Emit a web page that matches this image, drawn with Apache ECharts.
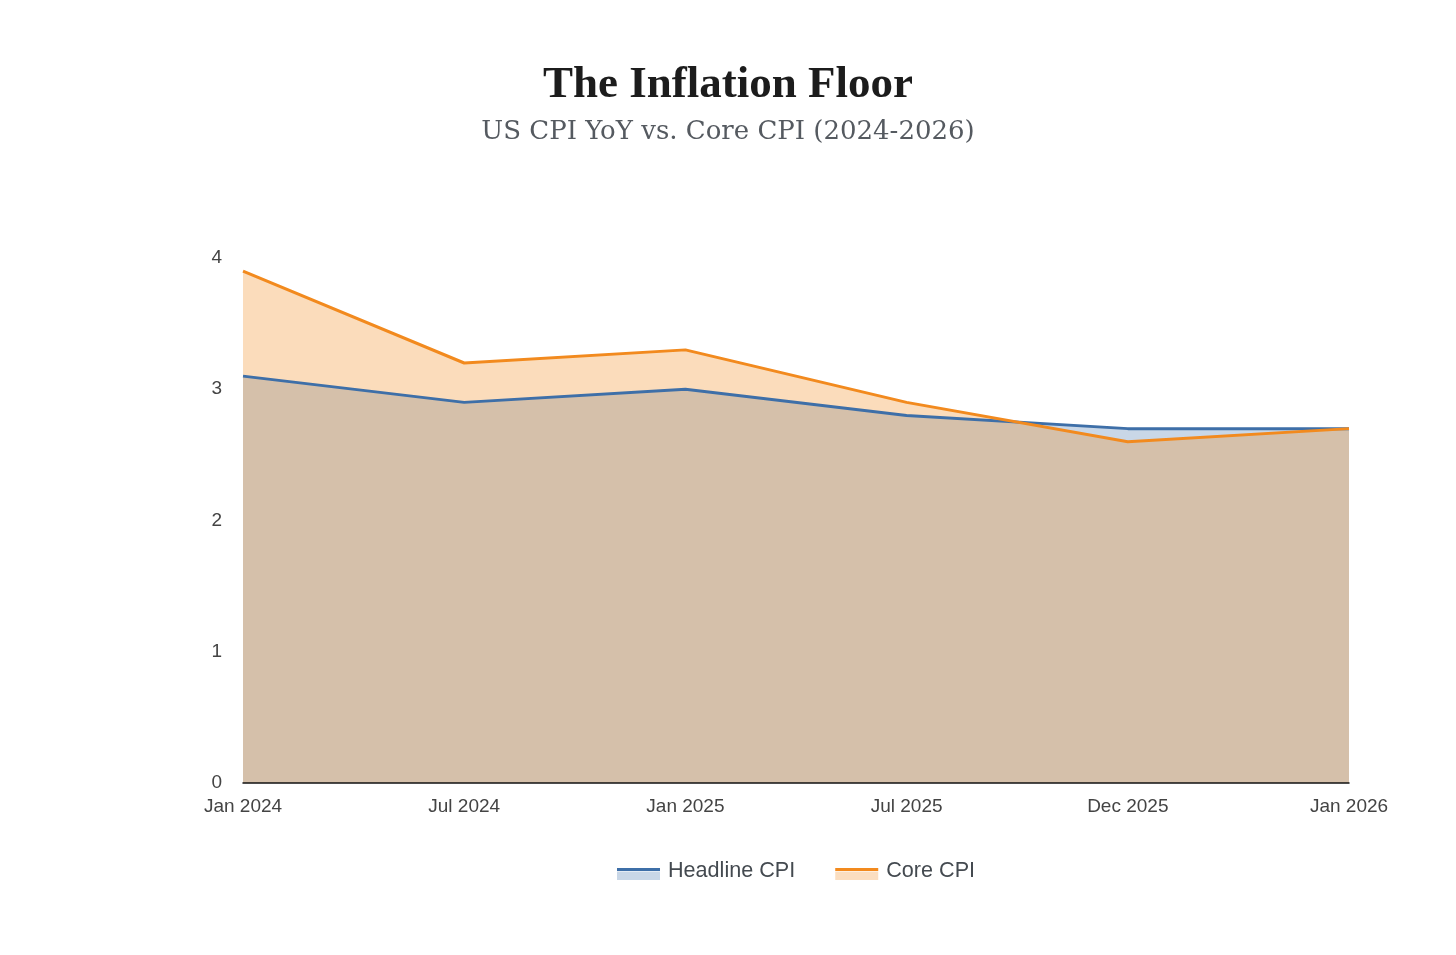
<!DOCTYPE html>
<html><head><meta charset="utf-8">
<script src="https://cdn.jsdelivr.net/npm/echarts@6/dist/echarts.min.js"></script>
<style>html,body{margin:0;padding:0;background:#fff}#c{width:1456px;height:955px}</style>
</head><body><div id="c"></div>
<script>
const categories = ['Jan 2024','Jul 2024','Jan 2025','Jul 2025','Dec 2025','Jan 2026'];
const headlineCPI = [3.1, 2.9, 3.0, 2.8, 2.7, 2.7];
const coreCPI = [3.9, 3.2, 3.3, 2.9, 2.6, 2.7];
const yTicks = [0, 1, 2, 3, 4];

const BLUE = '#3e6fa8', ORANGE = '#f28a1e';
const chart = echarts.init(document.getElementById('c'));
// legend icon: line near the top of a 43x14 box (tiny corner specks fix the box size)
const lineIcon = 'path://M0,0 H0.01 V0.01 H0 Z M0,4 H43 V7 H0 Z M0,13.99 H0.01 V14 H0 Z';
function areaSeries(name, data, color, op, z) {
  return { name, type: 'line', data, showSymbol: false, symbol: 'none',
    lineStyle: { width: 0, opacity: 0 }, itemStyle: { color },
    areaStyle: { color, opacity: op }, z };
}
function lineSeries(name, data, color, z) {
  return { name, type: 'line', data, showSymbol: false, symbol: 'none',
    lineStyle: { color, width: 3 }, itemStyle: { color }, z };
}
chart.setOption({
  animation: false,
  backgroundColor: '#fff',
  title: [
    { text: 'The Inflation Floor', left: 'center', top: 58,
      textStyle: { fontFamily: 'Liberation Serif', fontWeight: 'bold', fontSize: 45, color: '#1c1c1c' } },
    { text: 'US CPI YoY vs. Core CPI (2024-2026)', left: 'center', top: 114,
      textStyle: { fontFamily: 'DejaVu Serif', fontWeight: 'normal', fontSize: 26, color: '#555a60' } }
  ],
  grid: { left: 243, right: 107, top: 258, bottom: 172 },
  legend: {
    top: 855, left: 612, itemWidth: 43, itemHeight: 14, itemGap: 40,
    textStyle: { fontFamily: 'Liberation Sans', fontSize: 21.6, color: '#444a50', padding: [0, 0, 0, 3] },
    data: [
      { name: 'Headline CPI', icon: lineIcon },
      { name: 'Core CPI', icon: lineIcon }
    ]
  },
  xAxis: {
    type: 'category', data: categories, boundaryGap: false, z: 10,
    axisLine: { lineStyle: { color: '#111', width: 1.5 } },
    axisTick: { show: false },
    axisLabel: { fontFamily: 'Liberation Sans', fontSize: 19, color: '#444', margin: 14, showMinLabel: true, showMaxLabel: true, interval: 0 },
    splitLine: { show: false }
  },
  yAxis: {
    type: 'value', min: yTicks[0], max: yTicks[yTicks.length-1], interval: 1,
    axisLine: { show: false }, axisTick: { show: false }, splitLine: { show: false },
    axisLabel: { fontFamily: 'Liberation Sans', fontSize: 19, color: '#444', margin: 21 }
  },
  series: [
    areaSeries('Headline CPI', headlineCPI, BLUE, 0.28, 1),
    areaSeries('Core CPI', coreCPI, ORANGE, 0.3, 2),
    lineSeries('Headline CPI', headlineCPI, BLUE, 3),
    lineSeries('Core CPI', coreCPI, ORANGE, 4)
  ]
});

// light "area" part of legend icons, placed under each legend line icon
function addLegendAreas() {
  const found = [];
  chart.getZr().storage.getDisplayList().forEach(el => {
    const r = el.getBoundingRect && el.getBoundingRect();
    if (!r || el.type !== 'path') return;
    const m = el.transform;
    const gx = m ? m[4] : 0, gy = m ? m[5] : 0;
    const sy = m ? m[3] : 1;
    if (Math.abs(r.width * (m ? m[0] : 1) - 43) < 1.5 && gy + r.y * sy > 820) {
      found.push({ x: gx + r.x * (m ? m[0] : 1), y: gy + r.y * sy, h: r.height * sy, fill: el.style.fill });
    }
  });
  const seen = {};
  const g = [];
  found.forEach(e => {
    const k = Math.round(e.x);
    if (seen[k]) return; seen[k] = 1;
    g.push({ type: 'rect', shape: { x: e.x, y: e.y + 7.5, width: 43, height: 8.5 },
      style: { fill: e.fill, opacity: 0.28 }, silent: true });
  });
  chart.setOption({ graphic: g });
}
addLegendAreas();
</script></body></html>
